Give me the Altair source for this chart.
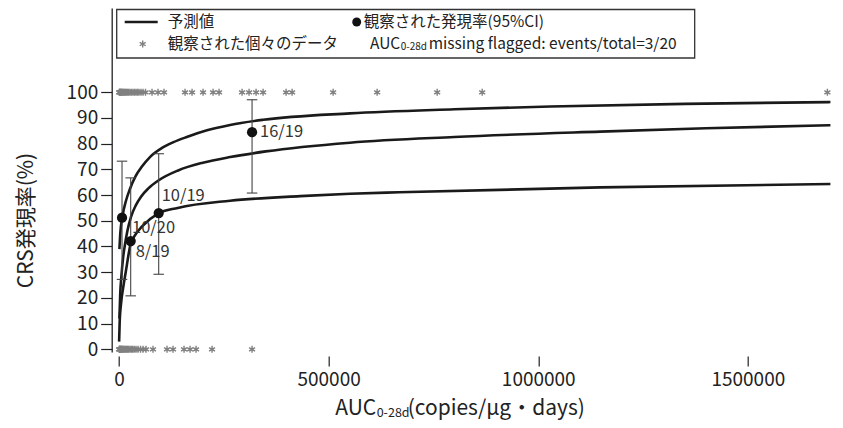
import altair as alt
import pandas as pd

FONT = "Noto Sans CJK JP"

# ---- predicted curves ----
upper_x = [1000, 3000, 8000, 17000, 26300, 40000, 54200, 75000, 101900, 130000, 161600,
           210000, 265000, 344000, 551000, 800000, 1029000, 1350000, 1697000]
upper_y = [39, 45, 51.5, 58, 62.5, 67.5, 71, 75, 78.3, 80.6, 82.6,
           85.2, 87.3, 89.3, 91.8, 93.4, 94.5, 95.5, 96.2]
middle_x = [1000, 3000, 5500, 10000, 14000, 20000, 28600, 40000, 52500, 70000, 93000,
            141000, 200000, 265000, 350000, 551000, 800000, 1148000, 1400000, 1697000]
middle_y = [12, 22, 28, 36, 40.5, 46, 51.5, 56, 59.4, 62.6, 65.6,
            69.6, 72.6, 74.8, 77, 80.4, 82.6, 84.7, 86, 87.2]
lower_x = [300, 1500, 5000, 10000, 17000, 27000, 40000, 55000, 93000, 140000, 265000,
           432000, 551000, 668000, 1148000, 1697000]
lower_y = [3, 10, 18, 24, 31, 40.5, 44.8, 47.8, 52.8, 55, 57.8,
           59.6, 60.5, 61.1, 63, 64.3]

# ---- observed individual data (asterisks) ----
event_x = [480, 1430, 2390, 3340, 4300, 5490, 6680, 8120, 9550, 11460,
           13370, 15510, 17900, 20290, 23150, 26250, 29830, 33410, 36990, 40570,
           44150, 47730, 52510, 57280, 63240, 78760, 93080, 107400, 157520, 174230,
           200480, 224350, 238670, 293550, 310260, 326970, 343680, 398570, 412890, 510750,
           615750, 758950, 866340, 1689710]
noevent_x = [480, 1190, 1910, 2860, 3820, 4770, 5970, 7160, 8590, 10020,
             11930, 13840, 15990, 18140, 20520, 23150, 26250, 29350, 32700, 36280,
             40570, 45340, 51310, 57280, 64440, 81140, 114560, 128880, 155130, 169450,
             183770, 221960, 317420]

# ---- observed rates with 95% CI ----
rate_x = [7200, 27900, 94700, 317400]
rate_y = [51.2, 42.1, 53.0, 84.5]
rate_lo = [27.2, 20.8, 29.2, 60.8]
rate_hi = [73.2, 66.7, 76.1, 97.1]
rate_lab = ["10/20", "8/19", "10/19", "16/19"]
lab_dx = [10, 5, 3, 8]
lab_dy = [10, 11, -17, 0]

x_ticks = [0, 500000, 1000000, 1500000]
y_ticks = [0, 10, 20, 30, 40, 50, 60, 70, 80, 90, 100]

curves = pd.concat([
    pd.DataFrame({"auc": upper_x, "p": upper_y, "c": "upper"}),
    pd.DataFrame({"auc": middle_x, "p": middle_y, "c": "middle"}),
    pd.DataFrame({"auc": lower_x, "p": lower_y, "c": "lower"}),
])
stars = pd.concat([
    pd.DataFrame({"auc": event_x, "p": 100}),
    pd.DataFrame({"auc": noevent_x, "p": 0}),
])
rates = pd.DataFrame({"auc": rate_x, "p": rate_y, "lo": rate_lo, "hi": rate_hi,
                      "lab": rate_lab})

xs = alt.Scale(domain=[-17420, 1700000], nice=False, zero=False)
ys = alt.Scale(domain=[-1.05, 132.8], nice=False, zero=False)

XAX = alt.Axis(values=x_ticks, format="d", domain=False, tickSize=10, offset=4,
               labelFontSize=19, labelPadding=5, labelColor="#222",
               tickColor="#222", tickWidth=1.2, grid=False, labelFont=FONT,
               labelOverlap=False)
YAX = alt.Axis(values=y_ticks, tickSize=11, domainColor="#222", domainWidth=1.3,
               tickColor="#222", tickWidth=1.2, labelFontSize=19, labelPadding=3,
               labelColor="#222", labelFont=FONT, grid=False, labelOverlap=False,
               titleFont=FONT, titleFontSize=21, titleFontWeight="normal",
               titleColor="#222", titleX=-85, titleY=212, titleBaseline="middle",
               titleAngle=270)


def X(f="auc"):
    return alt.X(f + ":Q", scale=xs, title=None, axis=XAX)


def Y(f="p"):
    return alt.Y(f + ":Q", scale=ys, title="CRS発現率(%)", axis=YAX)


STAR = "M0,-1L0,1M-0.87,-0.5L0.87,0.5M-0.87,0.5L0.87,-0.5"
CAP = "M-1,0L1,0"

lines = alt.Chart(curves).mark_line(color="#1a1a1a", strokeWidth=2.6, interpolate="monotone").encode(
    x=X(), y=Y(), detail="c:N")
star_layer = alt.Chart(stars).mark_point(shape=STAR, filled=False, stroke="#808080",
                                         strokeWidth=1.4, size=48, opacity=1).encode(x=X(), y=Y())
bars = alt.Chart(rates).mark_rule(color="#444", strokeWidth=1.1).encode(
    x=X(), y=Y("lo"), y2="hi:Q")
cap_hi = alt.Chart(rates).mark_point(shape=CAP, filled=False, stroke="#444", strokeWidth=1.1,
                                     size=110, opacity=1).encode(x=X(), y=Y("hi"))
cap_lo = alt.Chart(rates).mark_point(shape=CAP, filled=False, stroke="#444", strokeWidth=1.1,
                                     size=110, opacity=1).encode(x=X(), y=Y("lo"))
dots = alt.Chart(rates).mark_point(shape="circle", filled=True, color="#111", size=105,
                                   opacity=1).encode(x=X(), y=Y())
labels = []
for i in range(len(rate_lab)):
    labels.append(alt.Chart(rates.iloc[[i]]).mark_text(
        align="left", baseline="middle", dx=lab_dx[i], dy=lab_dy[i],
        font=FONT, fontSize=16.5, color="#333").encode(x=X(), y=Y(), text="lab:N"))

one = pd.DataFrame({"k": [0]})
TXT = dict(font=FONT, fontSize=15.5, color="#222", baseline="middle")
legend = [
    alt.Chart(one).mark_rect(fill="white", stroke="#333", strokeWidth=1.3).encode(
        x=alt.value(5), x2=alt.value(583), y=alt.value(1.5), y2=alt.value(50)),
    alt.Chart(one).mark_rule(color="#1a1a1a", strokeWidth=2.6).encode(
        x=alt.value(13), x2=alt.value(46), y=alt.value(14), y2=alt.value(14)),
    alt.Chart(one).mark_text(align="left", **TXT).encode(
        x=alt.value(56), y=alt.value(14), text=alt.value("予測値")),
    alt.Chart(one).mark_point(shape="circle", filled=True, color="#111", size=80, opacity=1).encode(
        x=alt.value(245), y=alt.value(14)),
    alt.Chart(one).mark_text(align="left", **TXT).encode(
        x=alt.value(252), y=alt.value(14), text=alt.value("観察された発現率(95%CI)")),
    alt.Chart(one).mark_point(shape=STAR, filled=False, stroke="#808080", strokeWidth=1.4,
                              size=48, opacity=1).encode(x=alt.value(31), y=alt.value(36)),
    alt.Chart(one).mark_text(align="left", **TXT).encode(
        x=alt.value(56), y=alt.value(36), text=alt.value("観察された個々のデータ")),
    alt.Chart(one).mark_text(align="right", **TXT).encode(
        x=alt.value(288.5), y=alt.value(36), text=alt.value("AUC")),
    alt.Chart(one).mark_text(align="left", font=FONT, fontSize=10, color="#222", baseline="middle").encode(
        x=alt.value(289), y=alt.value(39), text=alt.value("0-28d")),
    alt.Chart(one).mark_text(align="left", **TXT).encode(
        x=alt.value(317), y=alt.value(36), text=alt.value("missing flagged: events/total=3/20")),
]

XT = dict(font=FONT, fontSize=21, color="#222", baseline="middle")
xtitle = [
    alt.Chart(one).mark_text(align="right", **XT).encode(
        x=alt.value(264.5), y=alt.value(401), text=alt.value("AUC")),
    alt.Chart(one).mark_text(align="left", font=FONT, fontSize=12.5, color="#222", baseline="middle").encode(
        x=alt.value(265), y=alt.value(405), text=alt.value("0-28d")),
    alt.Chart(one).mark_text(align="left", **XT).encode(
        x=alt.value(296), y=alt.value(401), text=alt.value("(copies/μg・days)")),
]

chart = alt.layer(lines, star_layer, bars, cap_hi, cap_lo, dots, *labels, *legend, *xtitle).properties(
    width=720, height=344,
    autosize=alt.AutoSizeParams(type="none"),
    padding={"left": 103.7, "top": 0, "right": 3, "bottom": 75},
).configure_view(stroke=None)

chart.save("out.html", embed_options={"renderer": "svg", "actions": False})
